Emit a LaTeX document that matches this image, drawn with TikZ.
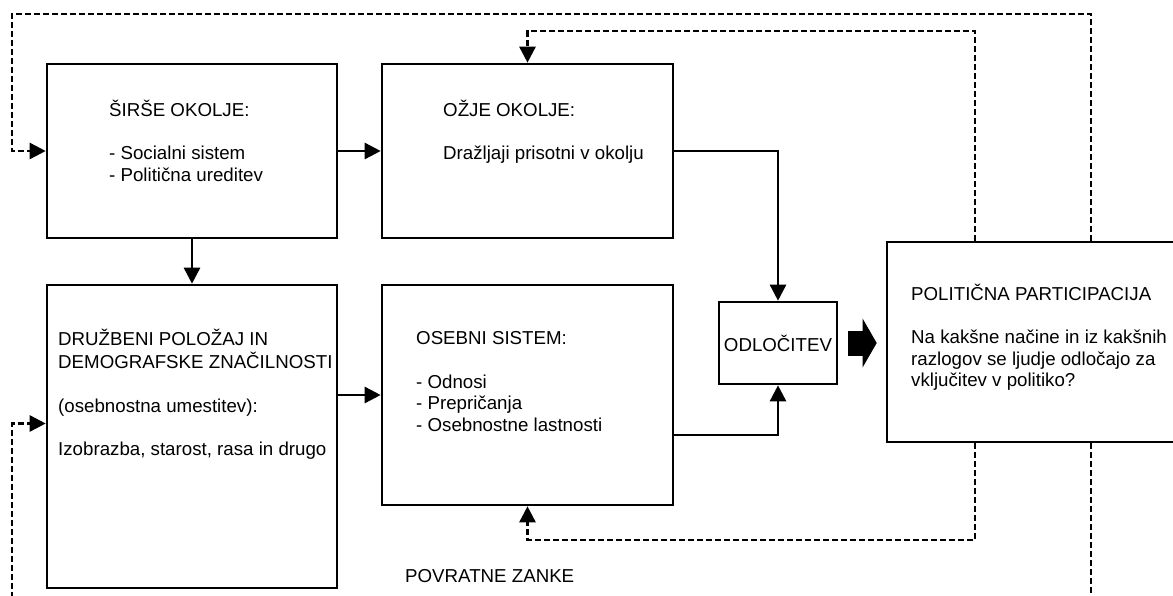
\documentclass[tikz,border=0pt]{standalone}
\usepackage{fontspec}
\setmainfont{Liberation Sans}
\usetikzlibrary{arrows.meta}

\begin{document}
\begin{tikzpicture}[x=1pt,y=-1pt,
    font=\fontsize{18.7}{21.7}\selectfont,
    panel/.style={draw,line width=2.6pt,inner sep=0pt},
    txt/.style={anchor=north west,inner sep=0pt,align=left},
    link/.style={line width=2.6pt,-{Triangle[length=16pt,width=16pt]}},
    feedback/.style={line width=2.6pt,dash pattern=on 6pt off 3pt,-{Triangle[length=16pt,width=16pt]}}]
    \useasboundingbox (0,0) rectangle (1173,596);
    \clip (0,0) rectangle (1173,596);

    \node[panel,minimum width=290pt,minimum height=174pt] (A) at (192,151) {};
    \node[panel,minimum width=291pt,minimum height=174pt] (B) at (527.5,151) {};
    \node[panel,minimum width=290pt,minimum height=303pt] (C) at (192,436.5) {};
    \node[panel,minimum width=291pt,minimum height=220pt] (D) at (527.5,395) {};
    \node[panel,minimum width=118pt,minimum height=82pt] (ODL) at (778,343) {ODLOČITEV};
    \node[panel,minimum width=313pt,minimum height=200pt] (POL) at (1043.5,342) {};

    \node[txt] (Atxt) at (109,99.5) {\strut ŠIRŠE OKOLJE:\\[21.7pt]- Socialni sistem\\- Politična ureditev};
    \node[txt] (Btxt) at (443,99.5) {\strut OŽJE OKOLJE:\\[21.7pt]Dražljaji prisotni v okolju};
    \node[txt] (Ctxt) at (58,328.5) {\strut DRUŽBENI POLOŽAJ IN\\DEMOGRAFSKE ZNAČILNOSTI\\[21.7pt](osebnostna umestitev):\\[21.7pt]Izobrazba, starost, rasa in drugo};
    \node[txt] (Dtxt) at (416,329.5) {\strut OSEBNI SISTEM:\\[21.7pt]- Odnosi\\- Prepričanja\\- Osebnostne lastnosti};
    \node[txt] (POLtxt) at (911,283.5) {\strut POLITIČNA PARTICIPACIJA\\[21.7pt]Na kakšne načine in iz kakšnih\\razlogov se ljudje odločajo za\\vključitev v politiko?};
    \node[anchor=west,inner sep=0pt] (zanke) at (405,576) {POVRATNE ZANKE};

    % solid arrows
    \draw[link] (A) -- (B);
    \draw[link] (A) -- (C);
    \draw[link] (C.east |- D.west) -- (D.west);
    \draw[link] (B) -| (ODL);
    \draw[link] ([yshift=-40pt]D.east) -| (ODL);
    \draw[line width=25pt,-{Triangle[length=14pt,width=48pt]},shorten <=10pt,shorten >=9pt] (ODL.east) -- (ODL.east -| POL.west);

    % feedback loops
    \coordinate (outerTop) at (1091,14);
    \coordinate (innerTop) at (975,31);
    \coordinate (innerBot) at (975,540);
    \coordinate (outerBot) at (1091,620);
    \coordinate (leftTop) at (12,14);
    \coordinate (leftBot) at (12,620);
    \draw[feedback] (POL.north -| outerTop) -- (outerTop) -- (leftTop) |- (A);
    \draw[feedback] (POL.north -| innerTop) -- (innerTop) -| (B);
    \draw[feedback] (POL.south -| innerBot) -- (innerBot) -| (D);
    \draw[feedback] (POL.south -| outerBot) -- (outerBot) -- (leftBot) |- ([yshift=13pt]C.west);
\end{tikzpicture}
\end{document}
